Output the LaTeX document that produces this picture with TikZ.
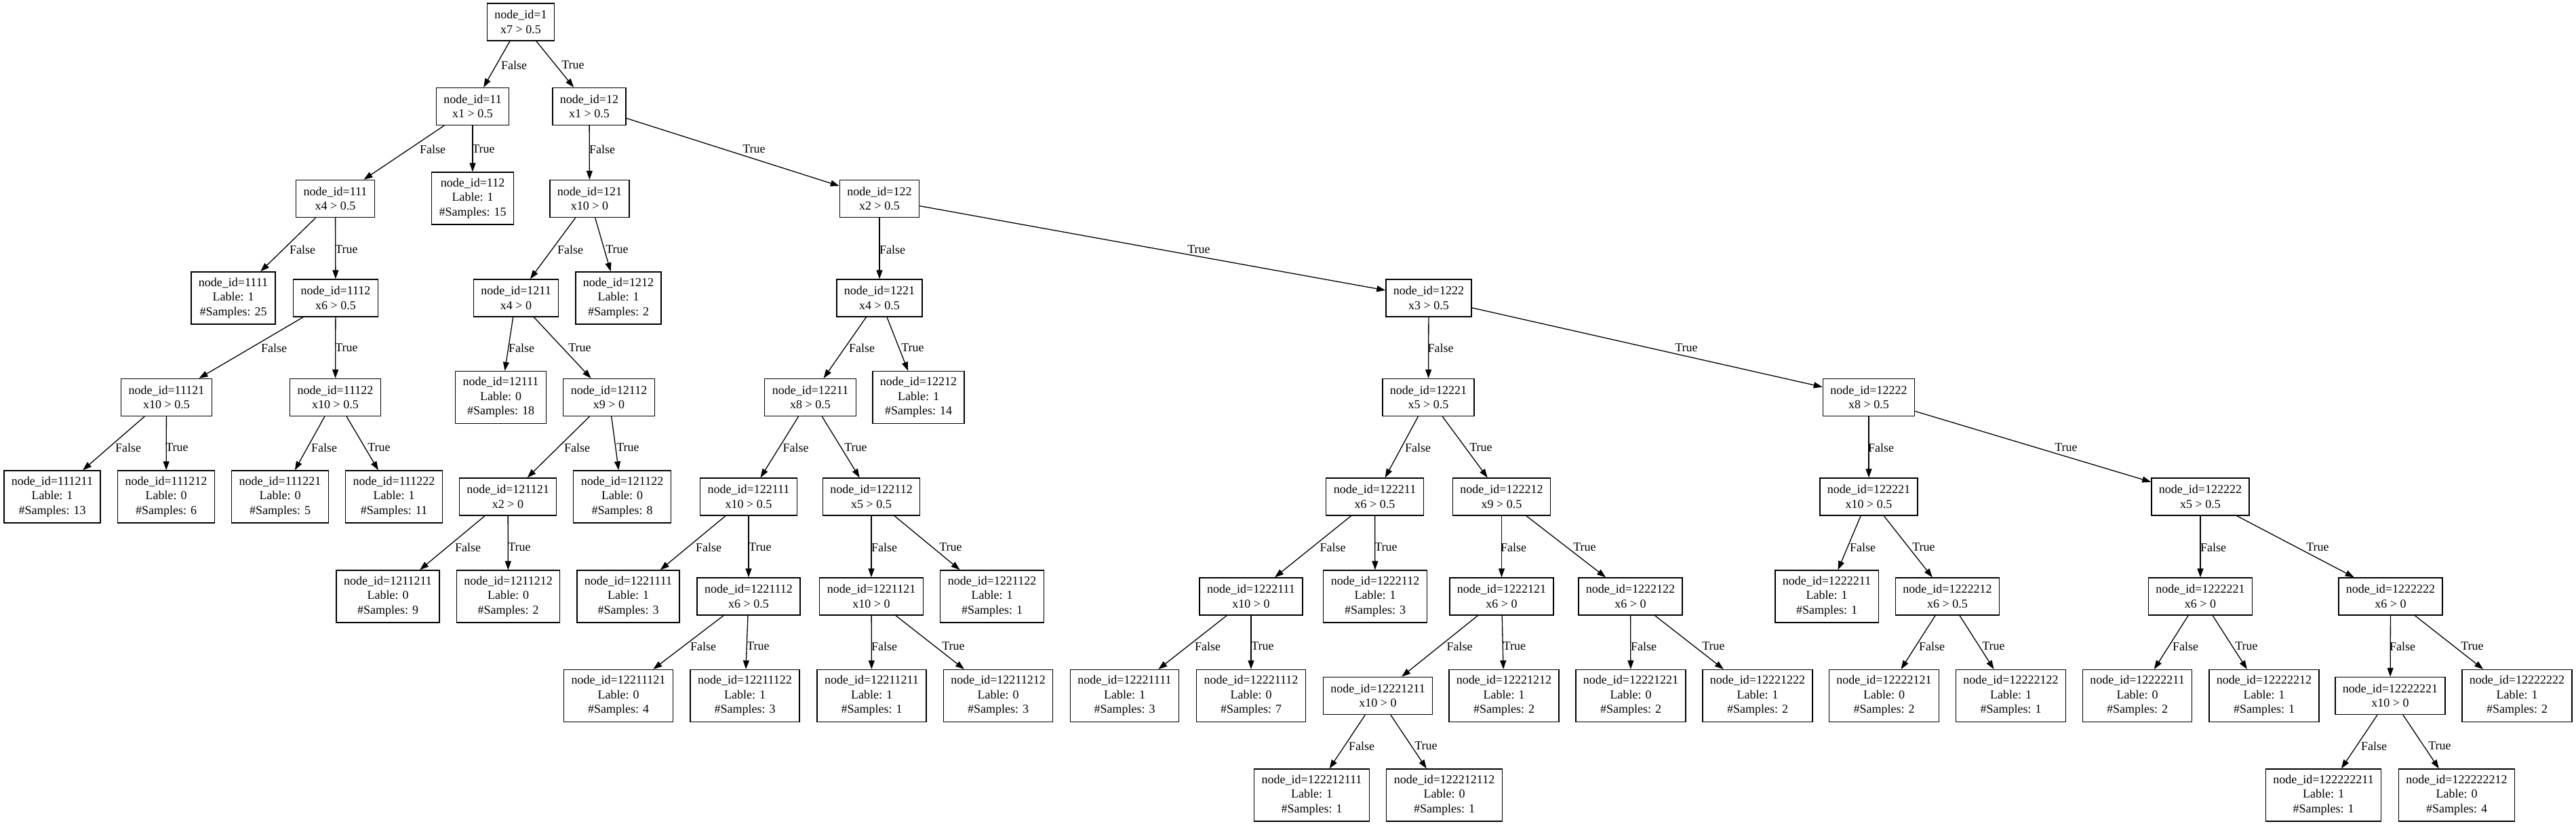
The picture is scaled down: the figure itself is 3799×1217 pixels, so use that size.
\documentclass[tikz,border=0pt]{standalone}
\usepackage{fontspec}
\setmainfont{Liberation Serif}
\usetikzlibrary{arrows.meta}
\tikzset{
  box/.style={draw, line width=0.7pt, rectangle, align=center, inner xsep=5.5pt, inner ysep=0pt, font=\fontsize{9}{10.8}\selectfont},
  dec/.style={box, minimum height=27.5pt},
  leaf/.style={box, minimum height=38.5pt},
  edge/.style={line width=0.65pt, -{Triangle[length=6.5pt,width=4.5pt]}},
  elab/.style={inner sep=0pt, font=\fontsize{9}{10.8}\selectfont},
}
\newcommand{\DecNode}[4]{\node[dec] (n#1) at (#2,#3) {node\_id=#1\\#4};}
\newcommand{\LeafNode}[5]{\node[leaf] (n#1) at (#2,#3) {node\_id=#1\\Lable: #4\\\#Samples: #5};}
\newcommand{\EdgeL}[5]{\draw[edge] (n#1) -- (n#2); \node[elab] (l#2) at (#4,#5) {#3};}
\begin{document}
\begin{tikzpicture}[x=0.5pt,y=-0.5pt]
\useasboundingbox (0,0) rectangle (3799,1217);
% rank 0-4
\DecNode{1}{768}{32.5}{x7 > 0.5}
\DecNode{11}{697}{157}{x1 > 0.5}
\DecNode{12}{869}{157}{x1 > 0.5}
\DecNode{111}{494.5}{293}{x4 > 0.5}
\LeafNode{112}{697}{292.5}{1}{15}
\DecNode{121}{869.5}{293}{x10 > 0}
\DecNode{122}{1297}{293}{x2 > 0.5}
\LeafNode{1111}{344}{439.5}{1}{25}
\DecNode{1112}{495}{439.5}{x6 > 0.5}
\DecNode{1211}{761}{439.5}{x4 > 0}
\LeafNode{1212}{912}{439.5}{1}{2}
\DecNode{1221}{1297}{439.5}{x4 > 0.5}
\DecNode{1222}{2107}{439.5}{x3 > 0.5}
\DecNode{11121}{245.5}{586}{x10 > 0.5}
\DecNode{11122}{494.5}{586}{x10 > 0.5}
\LeafNode{12111}{738.5}{586}{0}{18}
\DecNode{12112}{898}{586}{x9 > 0}
\DecNode{12211}{1195}{586}{x8 > 0.5}
\LeafNode{12212}{1354.5}{586}{1}{14}
\DecNode{12221}{2106.5}{586}{x5 > 0.5}
\DecNode{12222}{2756}{586}{x8 > 0.5}
% rank 5
\LeafNode{111211}{77}{732.5}{1}{13}
\LeafNode{111212}{245}{732.5}{0}{6}
\LeafNode{111221}{413}{732.5}{0}{5}
\LeafNode{111222}{581}{732.5}{1}{11}
\DecNode{121121}{749}{732.5}{x2 > 0}
\LeafNode{121122}{917.5}{732.5}{0}{8}
\DecNode{122111}{1104}{732.5}{x10 > 0.5}
\DecNode{122112}{1285}{732.5}{x5 > 0.5}
\DecNode{122211}{2027.5}{732.5}{x6 > 0.5}
\DecNode{122212}{2214.5}{732.5}{x9 > 0.5}
\DecNode{122221}{2756}{732.5}{x10 > 0.5}
\DecNode{122222}{3245}{732.5}{x5 > 0.5}
% rank 6
\LeafNode{1211211}{572}{879.5}{0}{9}
\LeafNode{1211212}{749.5}{879.5}{0}{2}
\LeafNode{1221111}{926.5}{879.5}{1}{3}
\DecNode{1221112}{1104}{879.5}{x6 > 0.5}
\DecNode{1221121}{1285}{879.5}{x10 > 0}
\LeafNode{1221122}{1463}{879.5}{1}{1}
\DecNode{1222111}{1845}{879.5}{x10 > 0}
\LeafNode{1222112}{2028}{879.5}{1}{3}
\DecNode{1222121}{2214.5}{879.5}{x6 > 0}
\DecNode{1222122}{2404.5}{879.5}{x6 > 0}
\LeafNode{1222211}{2694}{879.5}{1}{1}
\DecNode{1222212}{2872}{879.5}{x6 > 0.5}
\DecNode{1222221}{3245}{879.5}{x6 > 0}
\DecNode{1222222}{3525.5}{879.5}{x6 > 0}
% rank 7
\LeafNode{12211121}{912}{1026}{0}{4}
\LeafNode{12211122}{1098.5}{1026}{1}{3}
\LeafNode{12211211}{1285.5}{1026}{1}{1}
\LeafNode{12211212}{1472}{1026}{0}{3}
\LeafNode{12221111}{1658.5}{1026}{1}{3}
\LeafNode{12221112}{1845}{1026}{0}{7}
\DecNode{12221211}{2032}{1026}{x10 > 0}
\LeafNode{12221212}{2218}{1026}{1}{2}
\LeafNode{12221221}{2405}{1026}{0}{2}
\LeafNode{12221222}{2592}{1026}{1}{2}
\LeafNode{12222121}{2778.5}{1026}{0}{2}
\LeafNode{12222122}{2965.5}{1026}{1}{1}
\LeafNode{12222211}{3152}{1026}{0}{2}
\LeafNode{12222212}{3339}{1026}{1}{1}
\DecNode{12222221}{3525}{1026}{x10 > 0}
\LeafNode{12222222}{3712}{1026}{1}{2}
% rank 8
\LeafNode{122212111}{1934.5}{1172.5}{1}{1}
\LeafNode{122212112}{2130}{1172.5}{0}{1}
\LeafNode{122222211}{3426.5}{1172.5}{1}{1}
\LeafNode{122222212}{3623}{1172.5}{0}{4}
% edges
\EdgeL{1}{11}{False}{758}{96}
\EdgeL{1}{12}{True}{845}{96}
\EdgeL{11}{111}{False}{638}{220}
\EdgeL{11}{112}{True}{713}{220}
\EdgeL{12}{121}{False}{888}{220}
\EdgeL{12}{122}{True}{1112}{220}
\EdgeL{111}{1111}{False}{446}{368}
\EdgeL{111}{1112}{True}{511}{368}
\EdgeL{121}{1211}{False}{841}{368}
\EdgeL{121}{1212}{True}{910}{368}
\EdgeL{122}{1221}{False}{1316}{368}
\EdgeL{122}{1222}{True}{1768}{368}
\EdgeL{1112}{11121}{False}{404}{513}
\EdgeL{1112}{11122}{True}{511}{513}
\EdgeL{1211}{12111}{False}{769}{513}
\EdgeL{1211}{12112}{True}{855}{513}
\EdgeL{1221}{12211}{False}{1271}{513}
\EdgeL{1221}{12212}{True}{1346}{513}
\EdgeL{1222}{12221}{False}{2124.5}{513}
\EdgeL{1222}{12222}{True}{2487}{513}
\EdgeL{11121}{111211}{False}{189}{660}
\EdgeL{11121}{111212}{True}{261}{660}
\EdgeL{11122}{111221}{False}{478}{660}
\EdgeL{11122}{111222}{True}{559}{660}
\EdgeL{12112}{121121}{False}{851}{660}
\EdgeL{12112}{121122}{True}{926}{660}
\EdgeL{12211}{122111}{False}{1173.5}{660}
\EdgeL{12211}{122112}{True}{1262}{660}
\EdgeL{12221}{122211}{False}{2091}{660}
\EdgeL{12221}{122212}{True}{2184}{660}
\EdgeL{12222}{122221}{False}{2774}{660}
\EdgeL{12222}{122222}{True}{3047}{660}
\EdgeL{121121}{1211211}{False}{690}{807}
\EdgeL{121121}{1211212}{True}{766}{807}
\EdgeL{122111}{1221111}{False}{1045}{807}
\EdgeL{122111}{1221112}{True}{1121}{807}
\EdgeL{122112}{1221121}{False}{1304}{807}
\EdgeL{122112}{1221122}{True}{1402}{807}
\EdgeL{122211}{1222111}{False}{1965.6}{807}
\EdgeL{122211}{1222112}{True}{2044}{807}
\EdgeL{122212}{1222121}{False}{2232}{807}
\EdgeL{122212}{1222122}{True}{2337}{807}
\EdgeL{122221}{1222211}{False}{2747}{807}
\EdgeL{122221}{1222212}{True}{2837}{807}
\EdgeL{122222}{1222221}{False}{3264}{807}
\EdgeL{122222}{1222222}{True}{3418}{807}
\EdgeL{1221112}{12211121}{False}{1037}{953}
\EdgeL{1221112}{12211122}{True}{1118}{953}
\EdgeL{1221121}{12211211}{False}{1304}{953}
\EdgeL{1221121}{12211212}{True}{1406}{953}
\EdgeL{1222111}{12221111}{False}{1781}{953}
\EdgeL{1222111}{12221112}{True}{1862}{953}
\EdgeL{1222121}{12221211}{False}{2152.5}{953}
\EdgeL{1222121}{12221212}{True}{2233.5}{953}
\EdgeL{1222122}{12221221}{False}{2424}{953}
\EdgeL{1222122}{12221222}{True}{2527}{953}
\EdgeL{1222212}{12222121}{False}{2849}{953}
\EdgeL{1222212}{12222122}{True}{2940}{953}
\EdgeL{1222221}{12222211}{False}{3223}{953}
\EdgeL{1222221}{12222212}{True}{3313}{953}
\EdgeL{1222222}{12222221}{False}{3543}{953}
\EdgeL{1222222}{12222222}{True}{3646}{953}
\EdgeL{12221211}{122212111}{False}{2008}{1100}
\EdgeL{12221211}{122212112}{True}{2103}{1100}
\EdgeL{12222221}{122222211}{False}{3501}{1100}
\EdgeL{12222221}{122222212}{True}{3598}{1100}
\end{tikzpicture}
\end{document}
